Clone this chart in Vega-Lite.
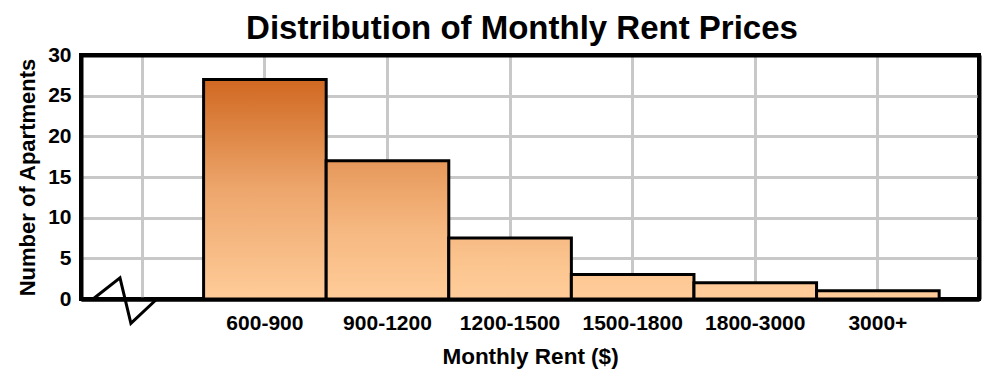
{
  "$schema": "https://vega.github.io/schema/vega-lite/v6.json",
  "width": 898,
  "height": 244,
  "autosize": {"type": "none"},
  "padding": {"left": 81, "top": 55, "right": 21, "bottom": 82},
  "background": "white",
  "config": {
    "view": {"stroke": "black", "strokeWidth": 4},
    "font": "Liberation Sans"
  },
  "title": {
    "text": "Distribution of Monthly Rent Prices",
    "fontSize": 33,
    "fontWeight": "bold",
    "font": "Liberation Sans",
    "color": "black",
    "anchor": "middle",
    "dx": -8,
    "offset": -2
  },
  "layer": [
    {
      "data": {
        "values": [
          {"range": "600-900", "count": 27},
          {"range": "900-1200", "count": 17},
          {"range": "1200-1500", "count": 7.5},
          {"range": "1500-1800", "count": 3},
          {"range": "1800-3000", "count": 2},
          {"range": "3000+", "count": 1}
        ]
      },
      "mark": {
        "type": "bar",
        "stroke": "black",
        "strokeWidth": 3,
        "fill": {"expr": "{gradient: 'linear', x1: 0, y1: 0, x2: 0, y2: 1, stops: [{offset: 0, color: 'rgb(' + round(255-47*pow(datum.count/27,1.4)) + ',' + round(204-100*pow(datum.count/27,1.4)) + ',' + round(153-120*pow(datum.count/27,1.4)) + ')'}, {offset: 0.5, color: 'rgb(' + round(255-47*pow(datum.count/54,1.4)) + ',' + round(204-100*pow(datum.count/54,1.4)) + ',' + round(153-120*pow(datum.count/54,1.4)) + ')'}, {offset: 1, color: 'rgb(255,204,153)'}]}"}
      },
      "encoding": {
        "x": {
          "field": "range",
          "type": "nominal",
          "sort": null,
          "scale": {
            "domain": [" ", "600-900", "900-1200", "1200-1500", "1500-1800", "1800-3000", "3000+"],
            "paddingInner": 0,
            "paddingOuter": 0.1625,
            "align": 0
          },
          "axis": {
            "title": "Monthly Rent ($)",
            "titleFont": "Liberation Sans",
            "titleFontSize": 22.5,
            "titleFontWeight": "bold",
            "titleColor": "black",
            "titlePadding": 12,
            "labelAngle": 0,
            "labelFont": "Liberation Sans",
            "labelFontSize": 21,
            "labelFontWeight": "bold",
            "labelColor": "black",
            "labelPadding": 13,
            "ticks": false,
            "grid": true,
            "gridColor": "#C8C8C8",
            "gridWidth": 3,
            "bandPosition": 0.5,
            "domainColor": "black",
            "domainWidth": 4
          }
        },
        "y": {
          "field": "count",
          "type": "quantitative",
          "scale": {"domain": [0, 30], "nice": false},
          "axis": {
            "title": "Number of Apartments",
            "titleFont": "Liberation Sans",
            "titleFontSize": 22,
            "titleFontWeight": "bold",
            "titleColor": "black",
            "titlePadding": 8,
            "values": [0, 5, 10, 15, 20, 25, 30],
            "labelFont": "Liberation Sans",
            "labelFontSize": 21,
            "labelFontWeight": "bold",
            "labelColor": "black",
            "labelPadding": 10,
            "ticks": false,
            "domain": true,
            "domainColor": "black",
            "domainWidth": 4,
            "grid": true,
            "gridColor": {"condition": {"test": "datum.value == 30 || datum.value == 0", "value": "black"}, "value": "#C8C8C8"},
            "gridWidth": {"condition": {"test": "datum.value == 30 || datum.value == 0", "value": 4}, "value": 3}
          }
        }
      }
    },
    {
      "data": {
        "values": [
          {"u": 0.098, "v": 0},
          {"u": 0.318, "v": 2.6},
          {"u": 0.407, "v": -3.0},
          {"u": 0.619, "v": 0}
        ]
      },
      "mark": {"type": "line", "color": "black", "strokeWidth": 3, "clip": false},
      "encoding": {
        "x": {"field": "u", "type": "quantitative", "scale": {"domain": [0, 7.325], "nice": false, "zero": false}, "axis": null},
        "y": {
          "field": "v",
          "type": "quantitative",
          "axis": {
            "orient": "right",
            "title": null,
            "labels": false,
            "ticks": false,
            "grid": false,
            "domain": true,
            "domainColor": "black",
            "domainWidth": 4
          }
        }
      }
    }
  ],
  "resolve": {"scale": {"x": "independent"}, "axis": {"y": "independent"}}
}
